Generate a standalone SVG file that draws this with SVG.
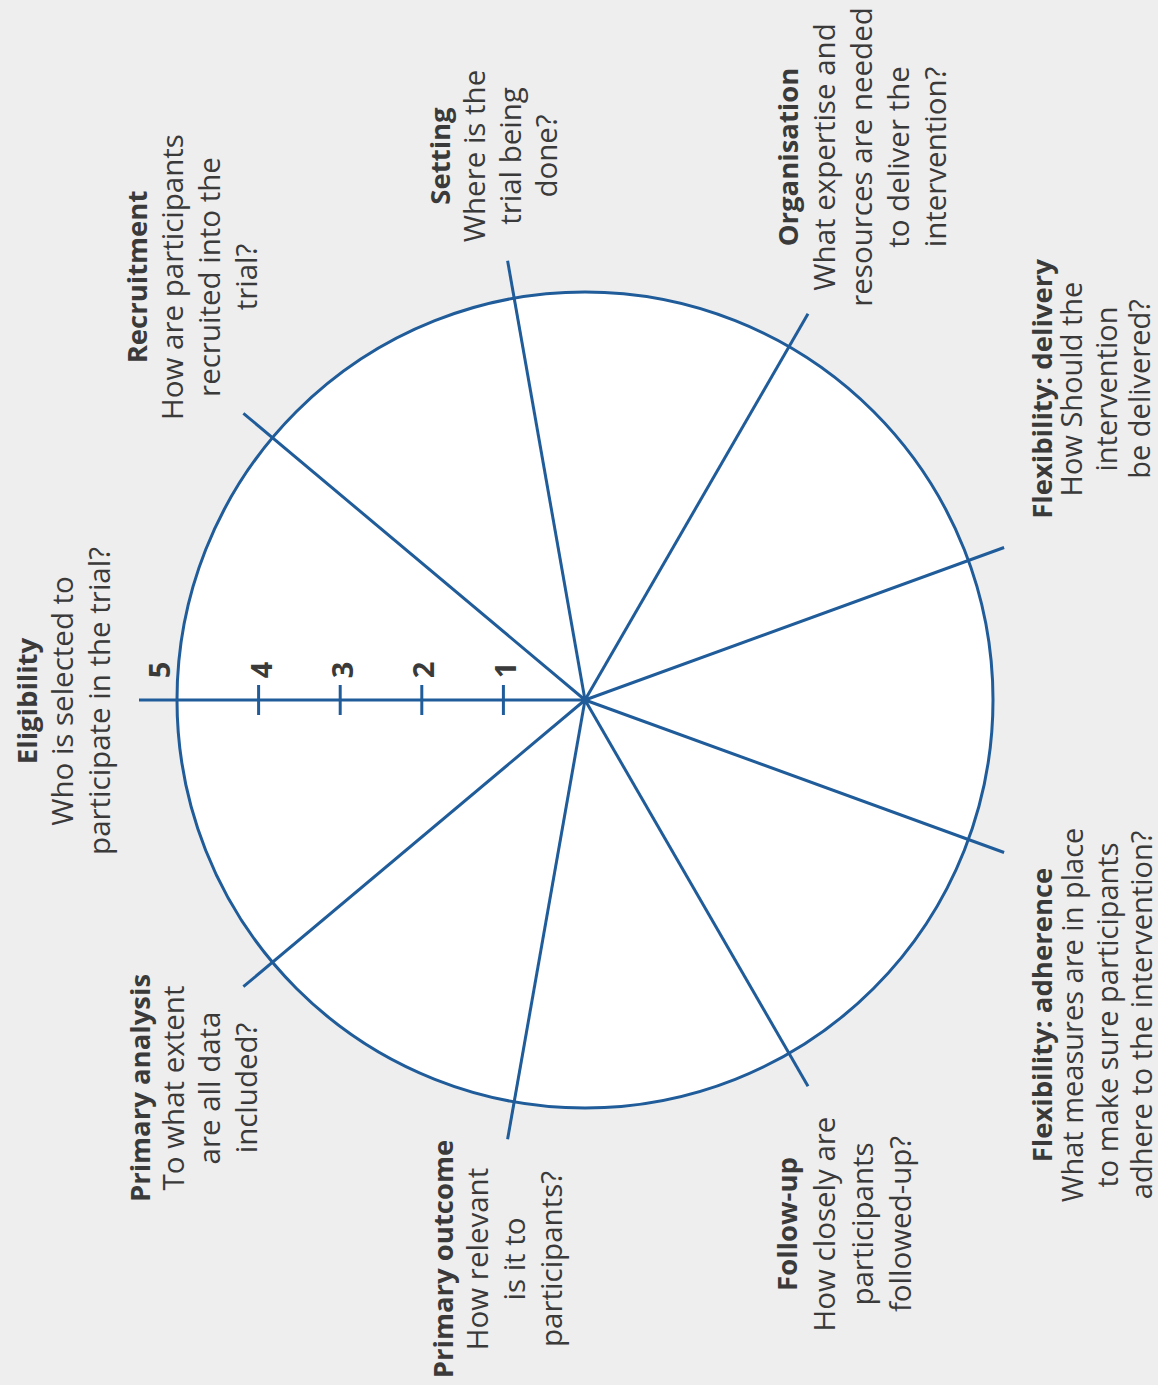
<svg xmlns="http://www.w3.org/2000/svg" width="1158" height="1385" viewBox="0 0 1158 1385">
<style>
.lbl{font-family:"Open Sans","Noto Sans","Liberation Sans",sans-serif;font-size:29.5px;fill:#3a3a3a;text-anchor:middle}
.sm{font-size:29px}
.t{font-weight:bold;font-size:27.5px}
.num{font-family:"Open Sans","Noto Sans","Liberation Sans",sans-serif;font-size:29px;font-weight:bold;fill:#3a3a3a;text-anchor:middle}
.ln{stroke:#1f5c99;stroke-width:3;fill:none;stroke-linecap:butt}
</style>
<rect x="0" y="0" width="1158" height="1385" fill="#eeeeee"/>
<g id="wheel">
<circle cx="585" cy="700" r="408" fill="#ffffff" stroke="#1f5c99" stroke-width="3"/>
</g>
<g id="connectors">
<line class="ln" x1="585" y1="700" x2="139" y2="700"/>
<line class="ln" x1="585" y1="700" x2="243.4" y2="413.3"/>
<line class="ln" x1="585" y1="700" x2="507.6" y2="260.8"/>
<line class="ln" x1="585" y1="700" x2="808" y2="313.8"/>
<line class="ln" x1="585" y1="700" x2="1004.1" y2="547.5"/>
<line class="ln" x1="585" y1="700" x2="1004.1" y2="852.5"/>
<line class="ln" x1="585" y1="700" x2="808" y2="1086.2"/>
<line class="ln" x1="585" y1="700" x2="507.6" y2="1139.2"/>
<line class="ln" x1="585" y1="700" x2="243.4" y2="986.7"/>
<line class="ln" x1="503.4" y1="685" x2="503.4" y2="715"/>
<line class="ln" x1="421.8" y1="685" x2="421.8" y2="715"/>
<line class="ln" x1="340.2" y1="685" x2="340.2" y2="715"/>
<line class="ln" x1="258.6" y1="685" x2="258.6" y2="715"/>
<circle cx="585" cy="700" r="4" fill="#1f5c99"/>
</g>
<g id="scale">
<text class="num" transform="translate(170,670) rotate(-90)">5</text>
<text class="num" transform="translate(272,670) rotate(-90)">4</text>
<text class="num" transform="translate(353,670) rotate(-90)">3</text>
<text class="num" transform="translate(434,670) rotate(-90)">2</text>
<text class="num" transform="translate(516,670) rotate(-90)">1</text>
</g>
<g id="eligibility">
<text class="lbl" transform="translate(37,701) rotate(-90)"><tspan class="t" x="0" y="0">Eligibility</tspan><tspan x="0" y="36">Who is selected to</tspan><tspan x="0" y="73">participate in the trial?</tspan></text>
</g>
<g id="recruitment">
<text class="lbl" transform="translate(147,277) rotate(-90)"><tspan class="t" x="0" y="0">Recruitment</tspan><tspan x="0" y="36">How are participants</tspan><tspan x="0" y="73">recruited into the</tspan><tspan x="0" y="110">trial?</tspan></text>
</g>
<g id="setting">
<text class="lbl" transform="translate(450,156) rotate(-90)"><tspan class="t" x="0" y="0">Setting</tspan><tspan x="0" y="35">Where is the</tspan><tspan x="0" y="71">trial being</tspan><tspan x="0" y="107">done?</tspan></text>
</g>
<g id="organisation">
<text class="lbl" transform="translate(798,157) rotate(-90)"><tspan class="t" x="0" y="0">Organisation</tspan><tspan x="0" y="37">What expertise and</tspan><tspan x="0" y="74">resources are needed</tspan><tspan x="0" y="111">to deliver the</tspan><tspan x="0" y="148">intervention?</tspan></text>
</g>
<g id="flexibility-delivery">
<text class="lbl sm" transform="translate(1052,389) rotate(-90)"><tspan class="t" x="0" y="0">Flexibility: delivery</tspan><tspan x="0" y="30">How Should the</tspan><tspan x="0" y="65">intervention</tspan><tspan x="0" y="98">be delivered?</tspan></text>
</g>
<g id="flexibility-adherence">
<text class="lbl sm" transform="translate(1052,1015) rotate(-90)"><tspan class="t" x="0" y="0">Flexibility: adherence</tspan><tspan x="0" y="31">What measures are in place</tspan><tspan x="0" y="66">to make sure participants</tspan><tspan x="0" y="100">adhere to the intervention?</tspan></text>
</g>
<g id="follow-up">
<text class="lbl" transform="translate(797,1224) rotate(-90)"><tspan class="t" x="0" y="0">Follow-up</tspan><tspan x="0" y="38">How closely are</tspan><tspan x="0" y="76">participants</tspan><tspan x="0" y="114">followed-up?</tspan></text>
</g>
<g id="primary-outcome">
<text class="lbl" transform="translate(453,1259) rotate(-90)"><tspan class="t" x="0" y="0">Primary outcome</tspan><tspan x="0" y="35">How relevant</tspan><tspan x="0" y="72">is it to</tspan><tspan x="0" y="109">participants?</tspan></text>
</g>
<g id="primary-analysis">
<text class="lbl" transform="translate(150,1088) rotate(-90)"><tspan class="t" x="0" y="0">Primary analysis</tspan><tspan x="0" y="34">To what extent</tspan><tspan x="0" y="70">are all data</tspan><tspan x="0" y="107">included?</tspan></text>
</g>
</svg>
